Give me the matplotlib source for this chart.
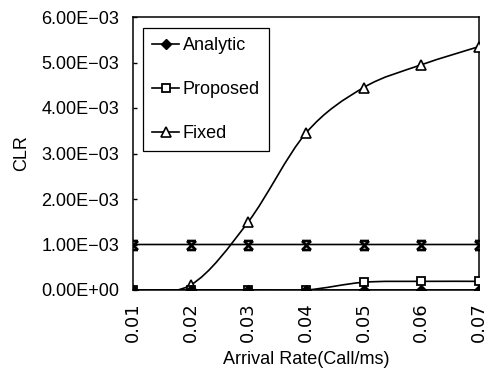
import matplotlib
matplotlib.use("Agg")
import matplotlib.pyplot as plt
import numpy as np
from matplotlib.path import Path
from matplotlib.patches import PathPatch
from matplotlib.lines import Line2D

categories = ['0.01', '0.02', '0.03', '0.04', '0.05', '0.06', '0.07']
analytic = [0.0, 0.0, 0.0, 0.0, 0.0, 0.0, 0.0]
proposed = [0.0, 0.0, 0.0, 0.0, 1.7e-4, 1.9e-4, 1.9e-4]
fixed = [0.0, 1.1e-4, 1.5e-3, 3.45e-3, 4.45e-3, 4.95e-3, 5.35e-3]
target = [1.0e-3, 1.0e-3, 1.0e-3, 1.0e-3, 1.0e-3, 1.0e-3, 1.0e-3]
ytick_values = [0.0, 1e-3, 2e-3, 3e-3, 4e-3, 5e-3, 6e-3]
ytick_labels = ['0.00E+00', '1.00E\u221203', '2.00E\u221203', '3.00E\u221203',
                '4.00E\u221203', '5.00E\u221203', '6.00E\u221203']

plt.rcParams['font.family'] = ['Liberation Sans', 'DejaVu Sans']

fig = plt.figure(figsize=(4.95, 3.84), dpi=100)
ax = fig.add_axes([133/495, 1-290/384, 346/495, 273/384])

xs = np.arange(len(categories))


def smooth_patch(xv, yv, lw=1.2):
    pts = np.column_stack([xv, yv]).astype(float)
    ext = np.vstack([pts[0], pts, pts[-1]])
    verts = [tuple(pts[0])]
    codes = [Path.MOVETO]
    for i in range(len(pts) - 1):
        p_prev, p0, p1, p_next = ext[i], ext[i+1], ext[i+2], ext[i+3]
        c1 = p0 + (p1 - p_prev) / 6.0
        c2 = p1 - (p_next - p0) / 6.0
        verts += [tuple(c1), tuple(c2), tuple(p1)]
        codes += [Path.CURVE4] * 3
    patch = PathPatch(Path(verts, codes), facecolor='none', edgecolor='black',
                      lw=lw, zorder=2)
    ax.add_patch(patch)


for series in (target, fixed, proposed, analytic):
    smooth_patch(xs, series)

hourglass = Path([(-1, 1), (1, -1), (-1, -1), (1, 1), (-1, 1), (1, 1), (-1, -1), (1, -1)],
                 [Path.MOVETO, Path.LINETO, Path.MOVETO, Path.LINETO,
                  Path.MOVETO, Path.LINETO, Path.MOVETO, Path.LINETO])

ax.plot(xs, target, ls='none', marker=hourglass, ms=6.5, mew=1.9, color='black', zorder=3)
ax.plot(xs, fixed, ls='none', marker='^', ms=6.5, mfc='white', mec='black', mew=1.2, zorder=3)
ax.plot(xs, proposed, ls='none', marker='s', ms=6, mfc='white', mec='black', mew=1.3, zorder=3)
ax.plot(xs, analytic, ls='none', marker='D', ms=5.5, mfc='black', mec='black', zorder=4)

ax.set_xlim(0, len(categories) - 1)
ax.set_ylim(0, 6e-3)
ax.set_xticks(xs)
ax.set_xticklabels(categories, rotation=90, family='DejaVu Sans', fontsize=13)
ax.set_yticks(ytick_values)
ax.set_yticklabels(ytick_labels, fontsize=13)
ax.tick_params(axis='x', length=0, pad=9)
ax.tick_params(axis='y', direction='in', length=3, pad=10, width=1)
for s in ax.spines.values():
    s.set_linewidth(1.1)
    s.set_color('black')

ax.set_xlabel('Arrival Rate(Call/ms)', fontsize=13, labelpad=6)
ax.set_ylabel('CLR', fontsize=13, labelpad=8)

handles = [
    Line2D([], [], color='black', lw=1.2, marker='D', ms=5.5, mfc='black'),
    Line2D([], [], color='black', lw=1.2, marker='s', ms=6, mfc='white', mew=1.3),
    Line2D([], [], color='black', lw=1.2, marker='^', ms=6.5, mfc='white', mew=1.2),
]
leg = ax.legend(handles, ['Analytic', 'Proposed', 'Fixed'], loc='upper left',
                bbox_to_anchor=(0.029, 0.96), fontsize=13, frameon=True,
                fancybox=False, edgecolor='black', framealpha=1,
                handlelength=1.5, handletextpad=0.2, labelspacing=1.5,
                borderpad=0.5, borderaxespad=0)
leg.get_frame().set_linewidth(0.9)

fig.savefig('out.png', dpi=100)
